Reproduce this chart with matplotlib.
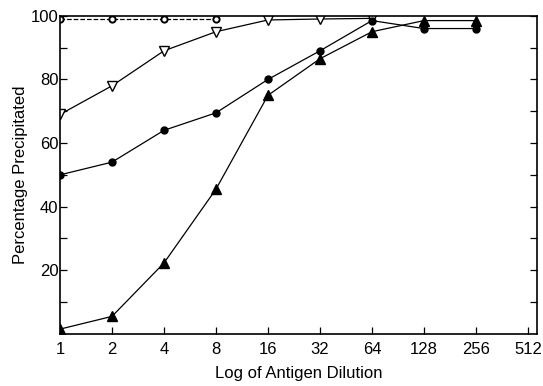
import numpy as np
import matplotlib
matplotlib.use('Agg')
import matplotlib.pyplot as plt

plt.rcParams['font.family'] = ['Liberation Sans', 'DejaVu Sans']

dil = [1, 2, 4, 8, 16, 32, 64, 128, 256]
xticks = [1, 2, 4, 8, 16, 32, 64, 128, 256, 512]

open_circ_x = [1, 2, 4, 8]
open_circ_y = [99, 99, 99, 99]

open_tri_x = [1, 2, 4, 8, 16, 32, 64]
open_tri_y = [69, 78, 89, 95, 98.7, 99, 99.2]

fill_circ_y = [50, 54, 64, 69.5, 80, 89, 98.5, 96, 96]
fill_tri_y = [1.5, 5.5, 22.3, 45.5, 75, 86.5, 95, 98.5, 98.5]

fig = plt.figure(figsize=(5.43, 3.86), dpi=100)
ax = fig.add_axes([0.1105, 0.135, 0.878, 0.824])

ax.plot(open_circ_x, open_circ_y, '--', color='k', lw=0.9, marker='o', ms=4.5,
        mfc='white', mec='k', mew=1.4)
ax.plot(open_tri_x, open_tri_y, '-', color='k', lw=0.9, marker='v', ms=7,
        mfc='white', mec='k', mew=1.0)
ax.plot(dil, fill_circ_y, '-', color='k', lw=0.9, marker='o', ms=5, mfc='k', mec='k')
ax.plot(dil, fill_tri_y, '-', color='k', lw=0.9, marker='^', ms=7, mfc='k', mec='k')

ax.set_xscale('log', base=2)
ax.set_xlim(1, 512 * 2 ** 0.17)
ax.set_ylim(0, 100)
ax.set_xticks(xticks)
ax.set_xticklabels([str(v) for v in xticks])
ax.minorticks_off()
ax.set_yticks([20, 40, 60, 80, 100])
ax.set_yticks(np.arange(10, 100, 20), minor=True)
ax.tick_params(which='both', direction='in', length=5, width=0.9, labelsize=12,
               right=True, top=False, colors='k')
ax.tick_params(axis='x', pad=6)
ax.tick_params(axis='y', pad=1)

for s in ax.spines.values():
    s.set_linewidth(1.2)

ax.set_xlabel('Log of Antigen Dilution', fontsize=12, labelpad=6)
ax.set_ylabel('Percentage Precipitated', fontsize=12, labelpad=2)

fig.savefig('out.png', dpi=100)
